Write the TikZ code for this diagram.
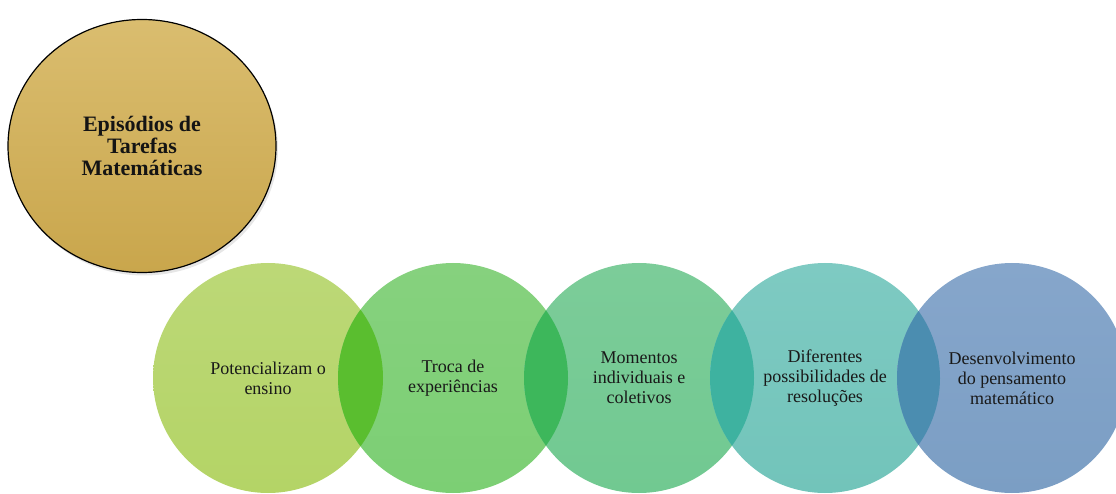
\documentclass[tikz,border=0pt]{standalone}
\usepackage{fontspec}
\setmainfont{Liberation Serif}
\usetikzlibrary{shapes.geometric,shadows}
\definecolor{cA}{HTML}{B4D466}
\definecolor{cAt}{HTML}{BCD877}
\definecolor{cB}{HTML}{7CCF74}
\definecolor{cBt}{HTML}{86D17E}
\definecolor{cC}{HTML}{71C991}
\definecolor{cCt}{HTML}{7CCC99}
\definecolor{cD}{HTML}{72C4BA}
\definecolor{cDt}{HTML}{7ECAC2}
\definecolor{cE}{HTML}{7B9EC4}
\definecolor{cEt}{HTML}{86A6CB}
\definecolor{oAB}{HTML}{5ABE2F}
\definecolor{oBC}{HTML}{3DB75B}
\definecolor{oCD}{HTML}{3EB2A0}
\definecolor{oDE}{HTML}{4B8DB0}
\definecolor{goldT}{HTML}{DABD6F}
\definecolor{goldB}{HTML}{C9A64C}
\begin{document}
\begin{tikzpicture}[x=1pt,y=-1pt]
\useasboundingbox (0,0) rectangle (1116,494);
\clip (0,0) rectangle (1116,494);
\tikzset{
  bubble/.style={circle, minimum size=230pt, inner sep=0pt, draw=none},
  btext/.style={align=center, text=black!90, font=\fontsize{18}{20}\selectfont},
}
% big title ellipse
\node[ellipse, minimum width=268pt, minimum height=253pt, draw=black, line width=1.2pt,
      top color=goldT, bottom color=goldB,
      drop shadow={opacity=0.2, shadow xshift=2pt, shadow yshift=-3pt},
      align=center, font=\bfseries\fontsize{22}{22}\selectfont, text=black!92] (title) at (142,146)
      {Episódios de\\Tarefas\\Matemáticas};
% five circles
\node[bubble, top color=cAt, bottom color=cA] (c1) at (268,378) {};
\node[bubble, top color=cBt, bottom color=cB] (c2) at (453,378) {};
\node[bubble, top color=cCt, bottom color=cC] (c3) at (639,378) {};
\node[bubble, top color=cDt, bottom color=cD] (c4) at (825,378) {};
\node[bubble, top color=cEt, bottom color=cE] (c5) at (1012,378) {};
% overlaps
\begin{scope}
  \clip (c1.center) circle[radius=115pt];
  \fill[oAB] (c2.center) circle[radius=115pt];
\end{scope}
\begin{scope}
  \clip (c2.center) circle[radius=115pt];
  \fill[oBC] (c3.center) circle[radius=115pt];
\end{scope}
\begin{scope}
  \clip (c3.center) circle[radius=115pt];
  \fill[oCD] (c4.center) circle[radius=115pt];
\end{scope}
\begin{scope}
  \clip (c4.center) circle[radius=115pt];
  \fill[oDE] (c5.center) circle[radius=115pt];
\end{scope}
% texts
\node[btext] (t1) at (c1.center) {Potencializam o\\ensino};
\node[btext] (t2) at (c2.center) {Troca de\\experiências};
\node[btext] (t3) at (c3.center) {Momentos\\individuais e\\coletivos};
\node[btext] (t4) at (c4.center) {Diferentes\\possibilidades de\\resoluções};
\node[btext] (t5) at (c5.center) {Desenvolvimento\\do pensamento\\matemático};
\end{tikzpicture}
\end{document}
